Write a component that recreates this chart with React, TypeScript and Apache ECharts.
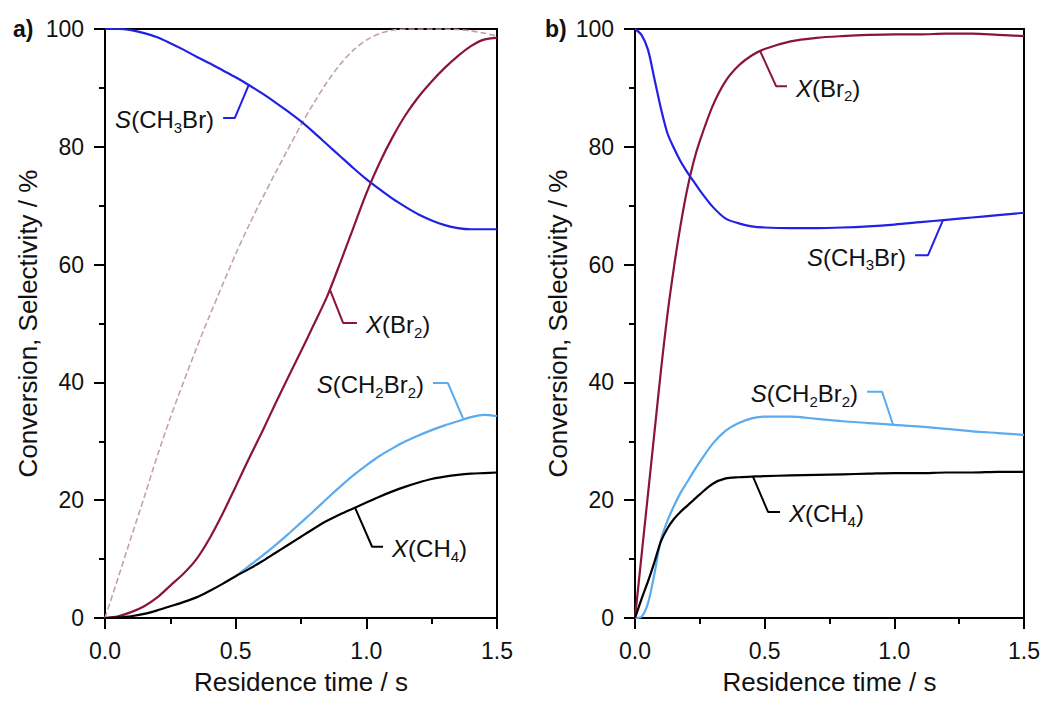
import React, { useEffect, useRef } from "react";
import * as echarts from "echarts";

// ---------- data ----------
const XA = [0, 0.05, 0.1, 0.15, 0.2, 0.25, 0.3, 0.35, 0.4, 0.45, 0.5, 0.55, 0.6, 0.65, 0.7, 0.75, 0.8, 0.85, 0.9, 0.95, 1.0, 1.05, 1.1, 1.15, 1.2, 1.25, 1.3, 1.35, 1.4, 1.45, 1.5];
const sCH3Br_a = [100, 100, 99.8, 99.3, 98.6, 97.6, 96.5, 95.3, 94.2, 93, 91.8, 90.5, 89.1, 87.6, 86.0, 84.3, 82.4, 80.4, 78.4, 76.4, 74.5, 72.8, 71.2, 69.8, 68.5, 67.5, 66.7, 66.2, 66.0, 66.0, 66.0];
const equil_a = [0, 6.8, 13.7, 20.5, 27.5, 34, 40, 45.8, 51.3, 56.6, 61.8, 66.6, 71.1, 75.4, 79.6, 83.7, 87.5, 91, 94, 96.4, 98.1, 99.2, 99.8, 100, 100, 100, 100, 99.9, 99.7, 99.3, 98.8];
const xBr2_a = [0, 0.3, 1, 2, 3.5, 5.5, 7.5, 10, 13.5, 17.7, 22.3, 27, 31.5, 36.2, 40.8, 45.3, 49.9, 54.6, 60.3, 66.2, 72.1, 77.2, 81.6, 85.4, 88.5, 91.1, 93.4, 95.4, 97.1, 98.2, 98.5];
const sCH2Br2_a = [null, null, null, null, null, null, null, null, null, null, 7.1, 8.8, 10.5, 12.3, 14.2, 16.2, 18.2, 20.3, 22.3, 24.2, 25.9, 27.5, 28.8, 30, 31, 31.9, 32.7, 33.4, 34.1, 34.5, 34.3];
const xCH4_a = [0, 0.1, 0.3, 0.7, 1.3, 2, 2.7, 3.5, 4.6, 5.8, 7.1, 8.3, 9.6, 11, 12.4, 13.8, 15.2, 16.5, 17.6, 18.6, 19.6, 20.6, 21.5, 22.3, 23, 23.6, 24, 24.3, 24.5, 24.6, 24.7];

const XB = [0, 0.025, 0.05, 0.075, 0.1, 0.125, 0.15, 0.175, 0.2, 0.225, 0.25, 0.3, 0.35, 0.4, 0.45, 0.5, 0.6, 0.7, 0.8, 0.9, 1.0, 1.1, 1.2, 1.3, 1.4, 1.5];
const xBr2_b = [0, 10.5, 21, 31.5, 42, 51.5, 59.5, 66.5, 72.5, 77.3, 81, 87, 91.2, 93.8, 95.5, 96.6, 97.9, 98.5, 98.8, 99, 99.1, 99.1, 99.2, 99.2, 99, 98.8];
const sCH3Br_b = [100, 99, 96.5, 91.5, 86.5, 82.3, 79.8, 77.6, 75.8, 74.2, 72.6, 69.8, 67.8, 67, 66.5, 66.3, 66.2, 66.2, 66.3, 66.5, 66.8, 67.2, 67.6, 68, 68.4, 68.8];
const sCH2Br2_b = [0, 0.2, 2.5, 7.5, 13.3, 16.5, 19, 21.2, 23, 24.8, 26.5, 29.6, 31.8, 33.1, 33.9, 34.2, 34.2, 33.8, 33.4, 33.1, 32.8, 32.5, 32.1, 31.7, 31.4, 31.1];
const xCH4_b = [0, 3.2, 6.2, 9.5, 13, 15.2, 16.8, 18, 19, 20, 21, 22.8, 23.7, 23.9, 24, 24.1, 24.2, 24.3, 24.4, 24.5, 24.6, 24.6, 24.7, 24.7, 24.8, 24.8];

const X_TICKS = { min: 0, max: 1.5, interval: 0.5 };
const Y_TICKS = { min: 0, max: 100, interval: 20 };
const X_NAME = "Residence time / s";
const Y_NAME = "Conversion, Selectivity / %";
const PANEL_TAGS = ["a)", "b)"];

// label annotations (leader line points in data coordinates; first point is the text end)
const LBL_SCH3BR = "{i|S}{n|(CH}{s|3}{n|Br)}";
const LBL_XBR2 = "{i|X}{n|(Br}{s|2}{n|)}";
const LBL_SCH2BR2 = "{i|S}{n|(CH}{s|2}{n|Br}{s|2}{n|)}";
const LBL_XCH4 = "{i|X}{n|(CH}{s|4}{n|)}";

const BLUE = "#2121e6";
const RED = "#8a1538";
const LBLUE = "#5aabef";
const BLACK = "#000000";
const DASH = "#c4a2aa";

const ANNOTATIONS = [
  { grid: 0, text: LBL_SCH3BR, side: "left", color: BLUE, pts: [[0.452, 84.9], [0.497, 84.9], [0.551, 90.6]] },
  { grid: 0, text: LBL_XBR2, side: "right", color: RED, pts: [[0.964, 50.1], [0.911, 50.1], [0.861, 55.7]] },
  { grid: 0, text: LBL_SCH2BR2, side: "left", color: LBLUE, pts: [[1.255, 39.9], [1.312, 39.9], [1.37, 33.9]] },
  { grid: 0, text: LBL_XCH4, side: "right", color: BLACK, pts: [[1.064, 12.1], [1.022, 12.1], [0.957, 18.7]] },
  { grid: 1, text: LBL_XBR2, side: "right", color: RED, pts: [[0.586, 90.3], [0.544, 90.3], [0.482, 96.3]] },
  { grid: 1, text: LBL_SCH3BR, side: "left", color: BLUE, pts: [[1.08, 61.6], [1.13, 61.6], [1.188, 67.6]] },
  { grid: 1, text: LBL_SCH2BR2, side: "left", color: LBLUE, pts: [[0.895, 38.4], [0.953, 38.4], [0.995, 32.8]] },
  { grid: 1, text: LBL_XCH4, side: "right", color: BLACK, pts: [[0.559, 18.0], [0.513, 18.0], [0.455, 24.0]] },
];

const zip = (xs: number[], ys: (number | null)[]) =>
  xs.map((x, i) => [x, ys[i]]).filter((p) => p[1] !== null);

const FONT = "Liberation Sans";

export default function App() {
  const ref = useRef<HTMLDivElement>(null);
  useEffect(() => {
    const chart = echarts.init(ref.current!, undefined, { renderer: "svg" });

    const axisCommon = {
      axisLine: { show: true, onZero: false, lineStyle: { color: "#000", width: 2 } },
      axisTick: { show: true, inside: false, length: 11, lineStyle: { color: "#000", width: 2 } },
      minorTick: { show: true, splitNumber: 2, length: 6, lineStyle: { color: "#000", width: 2 } },
      splitLine: { show: false },
      minorSplitLine: { show: false },
    };
    const mkX = (gi: number) => ({
      type: "value",
      gridIndex: gi,
      ...X_TICKS,
      ...axisCommon,
      name: X_NAME,
      nameLocation: "middle",
      nameGap: 51,
      nameTextStyle: { fontFamily: FONT, fontSize: 26, color: "#111" },
      axisLabel: { fontFamily: FONT, fontSize: 23, color: "#111", margin: 21, formatter: (v: number) => v.toFixed(1) },
    });
    const mkY = (gi: number) => ({
      type: "value",
      gridIndex: gi,
      ...Y_TICKS,
      ...axisCommon,
      name: Y_NAME,
      nameLocation: "middle",
      nameRotate: 90,
      nameGap: 64,
      nameTextStyle: { fontFamily: FONT, fontSize: 26, color: "#111" },
      axisLabel: { fontFamily: FONT, fontSize: 23, color: "#111", margin: 21 },
    });

    const line = (name: string, gi: number, xs: number[], ys: (number | null)[], color: string, extra: any = {}) => ({
      type: "line",
      name,
      xAxisIndex: gi,
      yAxisIndex: gi,
      data: zip(xs, ys),
      showSymbol: false,
      symbol: "none",
      smooth: 0.3,
      clip: true,
      lineStyle: { color, width: 2.2, ...(extra.lineStyle || {}) },
      z: extra.z || 3,
    });

    const series: any[] = [
      line("equil", 0, XA, equil_a, DASH, { lineStyle: { type: [6, 3], width: 1.6 }, z: 2 }),
      line("S(CH3Br) a", 0, XA, sCH3Br_a, BLUE),
      line("X(Br2) a", 0, XA, xBr2_a, RED),
      line("S(CH2Br2) a", 0, XA, sCH2Br2_a, LBLUE),
      line("X(CH4) a", 0, XA, xCH4_a, BLACK),
      line("X(Br2) b", 1, XB, xBr2_b, RED),
      line("S(CH3Br) b", 1, XB, sCH3Br_b, BLUE),
      line("S(CH2Br2) b", 1, XB, sCH2Br2_b, LBLUE),
      line("X(CH4) b", 1, XB, xCH4_b, BLACK),
    ];
    ANNOTATIONS.forEach((a, k) => {
      series.push({
        type: "line",
        name: "leader" + k,
        xAxisIndex: a.grid,
        yAxisIndex: a.grid,
        data: a.pts,
        showSymbol: false,
        symbol: "none",
        smooth: false,
        lineStyle: { color: a.color, width: 2 },
        z: 4,
      });
    });

    chart.setOption({
      animation: false,
      backgroundColor: "#ffffff",
      grid: [
        { left: 105, right: 550, top: 29, bottom: 84, show: true, borderColor: "#000", borderWidth: 2, backgroundColor: "transparent" },
        { left: 635, right: 23, top: 29, bottom: 84, show: true, borderColor: "#000", borderWidth: 2, backgroundColor: "transparent" },
      ],
      xAxis: [mkX(0), mkX(1)],
      yAxis: [mkY(0), mkY(1)],
      series,
    });

    const rich = {
      i: { fontFamily: FONT, fontSize: 24, fontStyle: "italic", lineHeight: 30, fill: "#111" },
      n: { fontFamily: FONT, fontSize: 24, lineHeight: 30, fill: "#111" },
      s: { fontFamily: FONT, fontSize: 15, lineHeight: 14, verticalAlign: "bottom", fill: "#111" },
    };
    const graphics: any[] = ANNOTATIONS.map((a) => {
      const p = chart.convertToPixel({ gridIndex: a.grid }, a.pts[0]) as number[];
      const left = a.side === "left";
      return {
        type: "text",
        x: p[0] + (left ? -9 : 9),
        y: p[1] + 2,
        z: 10,
        style: {
          text: a.text,
          rich,
          align: left ? "right" : "left",
          verticalAlign: "middle",
          fill: "#111",
          fontFamily: FONT,
          fontSize: 24,
        },
      };
    });
    [0, 1].forEach((gi) => {
      const p = chart.convertToPixel({ gridIndex: gi }, [0, 100]) as number[];
      graphics.push({
        type: "text",
        x: p[0] - (gi === 0 ? 92 : 90),
        y: p[1],
        z: 10,
        style: {
          text: PANEL_TAGS[gi],
          fontFamily: FONT,
          fontWeight: "bold",
          fontSize: 23,
          fill: "#111",
          align: "left",
          verticalAlign: "middle",
        },
      });
    });
    chart.setOption({ graphic: graphics });

    return () => chart.dispose();
  }, []);

  return (
    <div
      ref={ref}
      style={{ position: "absolute", left: 0, top: 0, width: 1047, height: 702, background: "#fff" }}
    />
  );
}
